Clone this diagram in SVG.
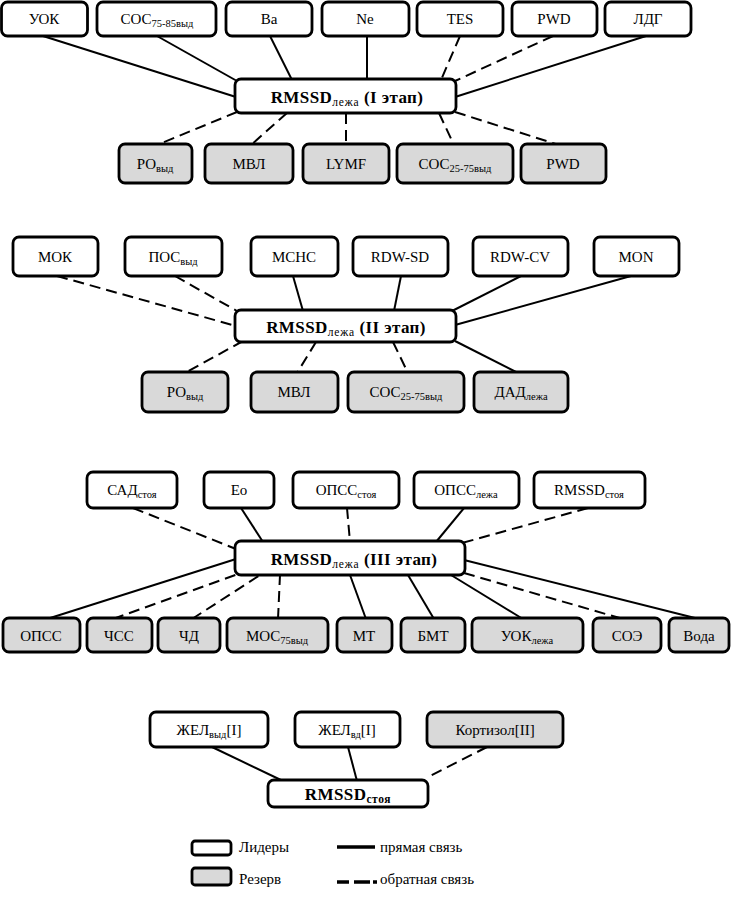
<svg xmlns="http://www.w3.org/2000/svg" width="736" height="898" viewBox="0 0 736 898" font-family="'Liberation Serif', 'DejaVu Serif', serif">
<style>
.n{fill:#fff;stroke:#000;stroke-width:2.8}
.r{fill:#d9d9d9;stroke:#000;stroke-width:2.8}
text{font-family:'Liberation Serif','DejaVu Serif',serif;font-size:15px;fill:#000;text-anchor:middle}
.c{font-weight:bold;font-size:17px;letter-spacing:0.4px}
.s{font-size:10.5px}
.cs{font-size:11.5px;font-weight:normal;letter-spacing:0.8px}
.cb{font-size:11.5px;font-weight:bold;letter-spacing:0.6px}
.l{text-anchor:start}
#connectors line{stroke:#000;stroke-width:2}
#connectors line.d{stroke-dasharray:11 6}
</style>
<rect width="736" height="898" fill="#fff"/>
<g id="connectors">
<line x1="43" y1="36" x2="236" y2="97"/>
<line x1="157" y1="36" x2="237" y2="81"/>
<line x1="270" y1="36" x2="292" y2="80"/>
<line x1="367" y1="36" x2="367" y2="80"/>
<line class="d" x1="460" y1="36" x2="441" y2="80"/>
<line class="d" x1="553" y1="36" x2="455" y2="81"/>
<line x1="646" y1="36" x2="455" y2="97"/>
<line class="d" x1="237" y1="112" x2="157" y2="145"/>
<line class="d" x1="287" y1="113" x2="251" y2="145"/>
<line class="d" x1="346" y1="113" x2="346" y2="145"/>
<line class="d" x1="439" y1="113" x2="454" y2="145"/>
<line class="d" x1="455" y1="112" x2="559" y2="145"/>
<line class="d" x1="57" y1="276" x2="236" y2="326"/>
<line class="d" x1="175" y1="276" x2="237" y2="311"/>
<line x1="293" y1="276" x2="303" y2="311"/>
<line x1="401" y1="276" x2="394" y2="311"/>
<line x1="521" y1="276" x2="452" y2="311"/>
<line x1="631" y1="276" x2="455" y2="325"/>
<line class="d" x1="243" y1="341" x2="185" y2="373"/>
<line class="d" x1="316" y1="342" x2="297" y2="373"/>
<line class="d" x1="393" y1="342" x2="408" y2="373"/>
<line x1="455" y1="341" x2="518" y2="373"/>
<line class="d" x1="133" y1="508" x2="236" y2="549"/>
<line x1="241" y1="508" x2="263" y2="542"/>
<line class="d" x1="347" y1="508" x2="350" y2="542"/>
<line x1="464" y1="508" x2="436" y2="542"/>
<line class="d" x1="588" y1="508" x2="462" y2="543"/>
<line x1="47" y1="619" x2="236" y2="559"/>
<line class="d" x1="113" y1="619" x2="238" y2="574"/>
<line class="d" x1="192" y1="619" x2="260" y2="575"/>
<line class="d" x1="278" y1="619" x2="280" y2="575"/>
<line x1="350" y1="575" x2="366" y2="619"/>
<line x1="408" y1="575" x2="434" y2="619"/>
<line x1="451" y1="575" x2="523" y2="619"/>
<line class="d" x1="464" y1="573" x2="623" y2="619"/>
<line x1="464" y1="560" x2="699" y2="619"/>
<line x1="212" y1="747" x2="283" y2="781"/>
<line x1="348" y1="747" x2="357" y2="781"/>
<line class="d" x1="487" y1="747" x2="428" y2="777"/>
</g>

<g id="uok"><rect class="n" x="1.5" y="2" width="86" height="34" rx="6"/><text x="44" y="24">УОК</text></g>
<g id="coc7585"><rect class="n" x="97" y="2" width="119" height="34" rx="6"/><text x="157" y="24">СОС<tspan class="s" dy="3">75-85выд</tspan></text></g>
<g id="ba"><rect class="n" x="226" y="2" width="86" height="34" rx="6"/><text x="269" y="24">Ba</text></g>
<g id="ne"><rect class="n" x="322" y="2" width="87" height="34" rx="6"/><text x="365" y="24">Ne</text></g>
<g id="tes"><rect class="n" x="417" y="2" width="86" height="34" rx="6"/><text x="460" y="24">TES</text></g>
<g id="pwd1"><rect class="n" x="512" y="2" width="85" height="34" rx="6"/><text x="554" y="24">PWD</text></g>
<g id="ldg"><rect class="n" x="605" y="2" width="86" height="34" rx="6"/><text x="648" y="24">ЛДГ</text></g>
<g id="center1"><rect class="n" x="235" y="79" width="221" height="34" rx="6"/><text x="347" y="103"><tspan class="c">RMSSD</tspan><tspan class="c cs" dy="3">лежа</tspan><tspan class="c" dy="-3"> (I этап)</tspan></text></g>
<g id="po1"><rect class="r" x="119" y="144" width="73" height="39" rx="6"/><text x="155" y="169">РО<tspan class="s" dy="3">выд</tspan></text></g>
<g id="mvl1"><rect class="r" x="205" y="144" width="88" height="39" rx="6"/><text x="249" y="169">МВЛ</text></g>
<g id="lymf"><rect class="r" x="303" y="144" width="86" height="39" rx="6"/><text x="346" y="169">LYMF</text></g>
<g id="coc2575a"><rect class="r" x="397" y="144" width="116" height="39" rx="6"/><text x="455" y="169">СОС<tspan class="s" dy="3">25-75выд</tspan></text></g>
<g id="pwd2"><rect class="r" x="521" y="144" width="85" height="39" rx="6"/><text x="563" y="169">PWD</text></g>

<g id="mok"><rect class="n" x="13" y="237" width="85" height="39" rx="6"/><text x="55" y="262">МОК</text></g>
<g id="pos"><rect class="n" x="125" y="237" width="97" height="39" rx="6"/><text x="173" y="262">ПОС<tspan class="s" dy="3">выд</tspan></text></g>
<g id="mchc"><rect class="n" x="251" y="237" width="87" height="39" rx="6"/><text x="294" y="262">MCHC</text></g>
<g id="rdwsd"><rect class="n" x="353" y="237" width="95" height="39" rx="6"/><text x="400" y="262">RDW-SD</text></g>
<g id="rdwcv"><rect class="n" x="473" y="237" width="95" height="39" rx="6"/><text x="520" y="262">RDW-CV</text></g>
<g id="mon"><rect class="n" x="594" y="237" width="85" height="39" rx="6"/><text x="636" y="262">MON</text></g>
<g id="center2"><rect class="n" x="235" y="310" width="221" height="32" rx="6"/><text x="346" y="333"><tspan class="c">RMSSD</tspan><tspan class="c cs" dy="3">лежа</tspan><tspan class="c" dy="-3"> (II этап)</tspan></text></g>
<g id="po2"><rect class="r" x="142" y="372" width="86" height="40" rx="6"/><text x="185" y="397">РО<tspan class="s" dy="3">выд</tspan></text></g>
<g id="mvl2"><rect class="r" x="251" y="372" width="87" height="40" rx="6"/><text x="294" y="397">МВЛ</text></g>
<g id="coc2575b"><rect class="r" x="348" y="372" width="116" height="40" rx="6"/><text x="406" y="397">СОС<tspan class="s" dy="3">25-75выд</tspan></text></g>
<g id="dad"><rect class="r" x="474" y="372" width="94" height="40" rx="6"/><text x="521" y="397">ДАД<tspan class="s" dy="3">лежа</tspan></text></g>

<g id="sad"><rect class="n" x="87" y="472" width="90" height="36" rx="6"/><text x="132" y="495">САД<tspan class="s" dy="3">стоя</tspan></text></g>
<g id="eo"><rect class="n" x="204" y="472" width="70" height="36" rx="6"/><text x="239" y="495">Eo</text></g>
<g id="opss-st"><rect class="n" x="293" y="472" width="106" height="36" rx="6"/><text x="346" y="495">ОПСС<tspan class="s" dy="3">стоя</tspan></text></g>
<g id="opss-le"><rect class="n" x="414" y="472" width="105" height="36" rx="6"/><text x="466" y="495">ОПСС<tspan class="s" dy="3">лежа</tspan></text></g>
<g id="rmssd-st"><rect class="n" x="534" y="472" width="111" height="36" rx="6"/><text x="589" y="495">RMSSD<tspan class="s" dy="3">стоя</tspan></text></g>
<g id="center3"><rect class="n" x="235" y="541" width="230" height="34" rx="6"/><text x="354" y="565"><tspan class="c">RMSSD</tspan><tspan class="c cs" dy="3">лежа</tspan><tspan class="c" dy="-3"> (III этап)</tspan></text></g>
<g id="opss"><rect class="r" x="3" y="618" width="77" height="34" rx="6"/><text x="41" y="641">ОПСС</text></g>
<g id="chss"><rect class="r" x="87" y="618" width="65" height="34" rx="6"/><text x="119" y="641">ЧСС</text></g>
<g id="chd"><rect class="r" x="158" y="618" width="62" height="34" rx="6"/><text x="189" y="641">ЧД</text></g>
<g id="mos"><rect class="r" x="227" y="618" width="101" height="34" rx="6"/><text x="277" y="641">МОС<tspan class="s" dy="3">75выд</tspan></text></g>
<g id="mt"><rect class="r" x="337" y="618" width="55" height="34" rx="6"/><text x="364" y="641">МТ</text></g>
<g id="bmt"><rect class="r" x="401" y="618" width="64" height="34" rx="6"/><text x="433" y="641">БМТ</text></g>
<g id="uok-le"><rect class="r" x="472" y="618" width="111" height="34" rx="6"/><text x="527" y="641">УОК<tspan class="s" dy="3">лежа</tspan></text></g>
<g id="soe"><rect class="r" x="593" y="618" width="68" height="34" rx="6"/><text x="627" y="641">СОЭ</text></g>
<g id="voda"><rect class="r" x="669" y="618" width="60" height="34" rx="6"/><text x="699" y="641">Вода</text></g>

<g id="zhel-vyd"><rect class="n" x="150" y="712" width="118" height="35" rx="6"/><text x="209" y="735">ЖЕЛ<tspan class="s" dy="3">выд</tspan><tspan dy="-3">[I]</tspan></text></g>
<g id="zhel-vd"><rect class="n" x="295" y="712" width="105" height="35" rx="6"/><text x="347" y="735">ЖЕЛ<tspan class="s" dy="3">вд</tspan><tspan dy="-3">[I]</tspan></text></g>
<g id="kortizol"><rect class="r" x="427" y="712" width="136" height="35" rx="6"/><text x="495" y="735">Кортизол[II]</text></g>
<g id="center4"><rect class="n" x="268" y="780" width="160" height="27" rx="6"/><text x="348" y="800"><tspan class="c">RMSSD</tspan><tspan class="cb" dy="3">стоя</tspan></text></g>

<g id="legend">
<rect class="n" x="192" y="841" width="39" height="14" rx="3"/>
<text class="l" x="239" y="852">Лидеры</text>
<rect class="r" x="192" y="868" width="39" height="17" rx="3"/>
<text class="l" x="239" y="884">Резерв</text>
<line x1="337" y1="847" x2="375" y2="847" stroke="#000" stroke-width="3.5"/>
<text class="l" x="380" y="852">прямая связь</text>
<line x1="337" y1="882" x2="377" y2="882" stroke="#000" stroke-width="3.5" stroke-dasharray="12 5 16 3 4 20"/>
<text class="l" x="380" y="884">обратная связь</text>
</g>
</svg>
